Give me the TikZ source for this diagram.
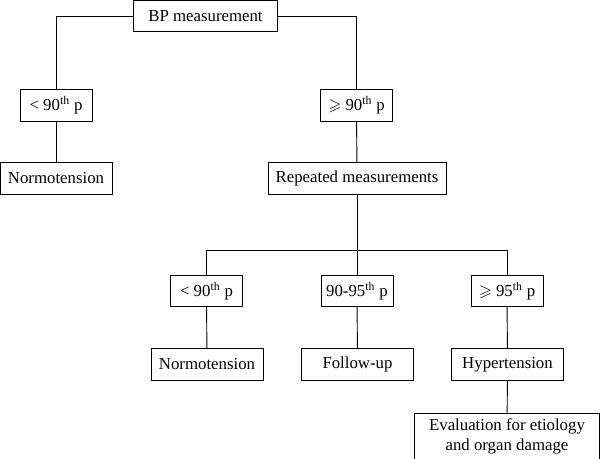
\documentclass[tikz,border=0pt]{standalone}
\usepackage{amssymb}
\usepackage{fontspec}
\setmainfont{Liberation Serif}
\begin{document}
\begin{tikzpicture}[x=0.75pt, y=-0.75pt, line width=0.7pt,
    box/.style={draw, inner sep=2pt, minimum height=23.5pt, font=\fontsize{12.6}{14}\selectfont},
    small/.style={box, minimum width=54pt},
    wide/.style={box, minimum width=84pt}]
    \useasboundingbox (0,0) rectangle (600,459);

    % Top level
    \node[box, minimum width=108.5pt] (bp) at (205.5,16) {BP measurement};
    \node[small] (lo) at (56,105.5) {< 90\textsuperscript{th} p};
    \node[small] (hi) at (356.5,105.5) {$\geqslant$ 90\textsuperscript{th} p};
    \node[wide] (norm) at (56,178.5) {Normotension};
    \node[box, minimum width=133.5pt] (rep) at (357,178.5) {Repeated measurements};

    % Second level
    \coordinate (split) at (357,250);
    \node[small] (lo2) at (206.5,291) {< 90\textsuperscript{th} p};
    \node[small] (mid2) at (357,291) {90-95\textsuperscript{th} p};
    \node[small] (hi2) at (507,291) {$\geqslant$ 95\textsuperscript{th} p};
    \node[wide] (norm2) at (207,364.5) {Normotension};
    \node[wide] (follow) at (357.5,364.5) {Follow-up};
    \node[wide] (hyper) at (507.5,364.5) {Hypertension};
    \node[box, minimum width=139pt, minimum height=34.5pt, align=center,
        font=\fontsize{12.6}{15}\selectfont] (eval) at (507,436)
        {Evaluation for etiology\\and organ damage};

    % Connectors
    \draw (bp.west) -| (lo.north);
    \draw (bp.east) -| (hi.north);
    \draw (lo) -- (norm);
    \draw (hi) -- (rep);
    \draw (rep) -- (split);
    \draw (split) -| (lo2.north);
    \draw (split) -| (hi2.north);
    \draw (split) -- (mid2.north);
    \draw (lo2) -- (norm2);
    \draw (mid2) -- (follow);
    \draw (hi2) -- (hyper);
    \draw (hyper) -- (eval);
\end{tikzpicture}
\end{document}
